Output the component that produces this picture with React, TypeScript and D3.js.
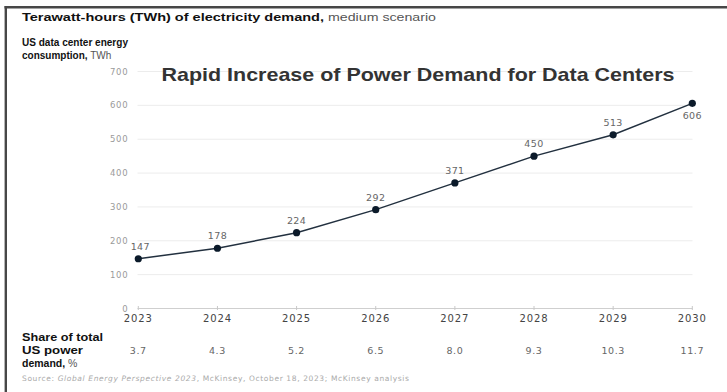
import React from "react";
import * as d3 from "d3";

const years = ["2023", "2024", "2025", "2026", "2027", "2028", "2029", "2030"];
const demand = [147, 178, 224, 292, 371, 450, 513, 606];
const share = ["3.7", "4.3", "5.2", "6.5", "8.0", "9.3", "10.3", "11.7"];
const yTicks = [0, 100, 200, 300, 400, 500, 600, 700];

const W = 727;
const H = 392;
const SANS = "'DejaVu Sans', Verdana, sans-serif";
const ARIAL = "'Liberation Sans', Arial, sans-serif";

export default function App() {
  const x = d3.scalePoint<string>().domain(years).range([138.3, 692.3]);
  const y = d3.scaleLinear().domain([0, 700]).range([308.5, 71.5]);
  const line = d3
    .line<number>()
    .x((_, i) => x(years[i]) as number)
    .y((d) => y(d));

  const gridX0 = 137.5;
  const gridX1 = 692.5;

  return (
    <svg
      width={W}
      height={H}
      style={{ position: "absolute", left: 0, top: 0, background: "#fff" }}
    >
      <rect x={0} y={0} width={W} height={H} fill="#fff" />
      {/* frame */}
      <line x1={4.5} x2={W} y1={7.3} y2={7.3} stroke="#474747" strokeWidth={2.6} />
      <line x1={5.8} x2={5.8} y1={6} y2={H} stroke="#474747" strokeWidth={2.4} />

      {/* header */}
      <text
        x={22}
        y={21}
        fontFamily={ARIAL}
        fontSize={10.5}
        fontWeight="bold"
        fill="#111"
        textLength={302}
        lengthAdjust="spacingAndGlyphs"
      >
        Terawatt-hours (TWh) of electricity demand,
      </text>
      <text
        x={328}
        y={21}
        fontFamily={ARIAL}
        fontSize={10.5}
        fill="#555"
        textLength={108}
        lengthAdjust="spacingAndGlyphs"
      >
        medium scenario
      </text>
      <text
        x={22}
        y={45.5}
        fontFamily={ARIAL}
        fontSize={10}
        fill="#111"
        fontWeight="bold"
        textLength={106}
        lengthAdjust="spacingAndGlyphs"
      >
        US data center energy
      </text>
      <text x={22} y={58.5} fontFamily={ARIAL} fontSize={10} fill="#111">
        <tspan fontWeight="bold">consumption,</tspan>
        <tspan fill="#555"> TWh</tspan>
      </text>

      {/* grid */}
      {yTicks.map((t) => (
        <g key={t}>
          <line
            x1={gridX0}
            x2={gridX1}
            y1={y(t)}
            y2={y(t)}
            stroke={t === 0 ? "#cfcfcf" : "#ececec"}
            strokeWidth={1}
          />
          <text
            x={128.5}
            y={y(t) + 3}
            textAnchor="end"
            fontFamily={SANS}
            fontSize={8.5}
            letterSpacing={0.8}
            fill="#9a9a9a"
          >
            {t}
          </text>
        </g>
      ))}
      {years.map((yr) => (
        <line
          key={yr}
          x1={x(yr)}
          x2={x(yr)}
          y1={y(0) - 2.5}
          y2={y(0) + 1.5}
          stroke="#c8c8c8"
          strokeWidth={1}
        />
      ))}

      {/* title */}
      <text
        x={161.5}
        y={81}
        fontFamily={ARIAL}
        fontWeight="bold"
        fontSize={19}
        fill="#333"
        textLength={513}
        lengthAdjust="spacingAndGlyphs"
      >
        Rapid Increase of Power Demand for Data Centers
      </text>

      {/* line */}
      <path d={line(demand) || ""} fill="none" stroke="#22303f" strokeWidth={1.5} />
      {demand.map((v, i) => (
        <circle key={i} cx={x(years[i])} cy={y(v)} r={3.6} fill="#0b1a2a" />
      ))}
      {demand.map((v, i) => {
        const last = i === demand.length - 1;
        const first = i === 0;
        return (
          <text
            key={"l" + i}
            x={(x(years[i]) as number) + (first ? 2 : 0)}
            y={last ? y(v) + 16 : y(v) - 9}
            textAnchor="middle"
            fontFamily={SANS}
            fontSize={9.5}
            letterSpacing={0.4}
            fill="#666"
          >
            {v}
          </text>
        );
      })}

      {/* year labels */}
      {years.map((yr) => (
        <text
          key={"y" + yr}
          x={x(yr)}
          y={322}
          textAnchor="middle"
          fontFamily={SANS}
          fontSize={10}
          letterSpacing={0.9}
          fill="#444"
        >
          {yr}
        </text>
      ))}

      {/* share row */}
      <text
        x={22}
        y={341}
        fontFamily={ARIAL}
        fontSize={10.5}
        fontWeight="bold"
        fill="#111"
        textLength={81}
        lengthAdjust="spacingAndGlyphs"
      >
        Share of total
      </text>
      <text x={22} y={354} fontFamily={ARIAL} fontSize={10.5} fontWeight="bold" fill="#111"
        textLength={61}
        lengthAdjust="spacingAndGlyphs">
        US power
      </text>
      <text x={22} y={367} fontFamily={ARIAL} fontSize={10.5} fill="#111">
        <tspan fontWeight="bold">demand,</tspan>
        <tspan fill="#555"> %</tspan>
      </text>
      {share.map((s, i) => (
        <text
          key={"s" + i}
          x={x(years[i])}
          y={354}
          textAnchor="middle"
          fontFamily={SANS}
          fontSize={9.5}
          letterSpacing={0.6}
          fill="#666"
        >
          {s}
        </text>
      ))}

      {/* source */}
      <text
        x={22}
        y={381}
        fontFamily={SANS}
        fontSize={7.5}
        fill="#aaa"
        textLength={387}
        lengthAdjust="spacing"
      >
        Source: <tspan fontStyle="italic">Global Energy Perspective 2023</tspan>, McKinsey,
        October 18, 2023; McKinsey analysis
      </text>
    </svg>
  );
}
